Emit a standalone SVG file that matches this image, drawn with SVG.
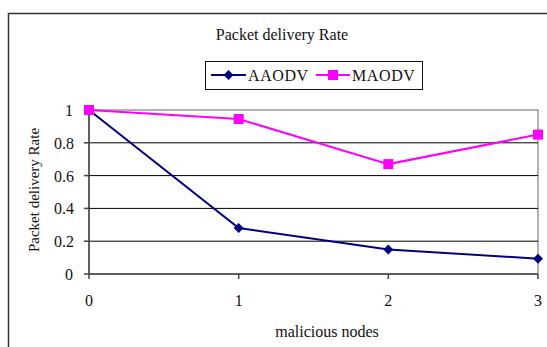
<svg xmlns="http://www.w3.org/2000/svg" width="547" height="347" viewBox="0 0 547 347">
  <style>
    text { font-family: "Liberation Serif", "Times New Roman", serif; fill: #111; }
    .t16 { font-size: 16px; }
    .tick { font-size: 16px; }
    .grid { stroke: #000; stroke-width: 1; }
    .frame { stroke: #808080; stroke-width: 1.2; fill: none; }
    .axis { stroke: #444; stroke-width: 1.5; }
    .aaodv { stroke: #000080; stroke-width: 2; fill: none; }
    .maodv { stroke: #FF00FF; stroke-width: 2; fill: none; }
  </style>
  <defs>
    <path id="diamond" d="M0,-5 L5,0 L0,5 L-5,0 Z" fill="#000080"/>
    <rect id="square" x="-5" y="-5" width="10" height="10" fill="#FF00FF"/>
  </defs>
  <rect width="547" height="347" fill="#fff"/>
  <!-- chart frame running off the right and bottom edges -->
  <path d="M8.5,347 V13.5 H547" fill="none" stroke="#333" stroke-width="1.5"/>

  <text class="t16" x="282" y="40" text-anchor="middle">Packet delivery Rate</text>

  <!-- legend -->
  <g id="legend">
    <rect x="205.5" y="61.5" width="217" height="28" fill="#fff" stroke="#111" stroke-width="1"/>
    <line x1="211" y1="75" x2="246" y2="75" class="aaodv"/>
    <use href="#diamond" x="228.5" y="75"/>
    <text class="t16" x="248" y="81" letter-spacing="0.6">AAODV</text>
    <line x1="316" y1="75" x2="350" y2="75" class="maodv"/>
    <use href="#square" x="333" y="75"/>
    <text class="t16" x="352" y="81" letter-spacing="0.6">MAODV</text>
  </g>

  <!-- plot area -->
  <g id="plot">
    <rect x="89" y="110" width="449" height="164" class="frame"/>
    <line x1="89" y1="142.8" x2="538" y2="142.8" class="grid"/>
    <line x1="89" y1="175.6" x2="538" y2="175.6" class="grid"/>
    <line x1="89" y1="208.4" x2="538" y2="208.4" class="grid"/>
    <line x1="89" y1="241.2" x2="538" y2="241.2" class="grid"/>
    <line x1="89" y1="110" x2="89" y2="279" class="axis"/>
    <line x1="84" y1="274" x2="538" y2="274" class="axis"/>
    <g class="axis">
      <line x1="84" y1="110" x2="89" y2="110"/>
      <line x1="84" y1="142.8" x2="89" y2="142.8"/>
      <line x1="84" y1="175.6" x2="89" y2="175.6"/>
      <line x1="84" y1="208.4" x2="89" y2="208.4"/>
      <line x1="84" y1="241.2" x2="89" y2="241.2"/>
      <line x1="238.7" y1="274" x2="238.7" y2="279"/>
      <line x1="388.3" y1="274" x2="388.3" y2="279"/>
      <line x1="538" y1="274" x2="538" y2="279"/>
    </g>
  </g>

  <!-- y axis labels -->
  <g class="tick" text-anchor="end">
    <text x="73" y="116">1</text>
    <text x="74" y="149">0.8</text>
    <text x="74" y="182">0.6</text>
    <text x="74" y="214">0.4</text>
    <text x="74" y="247">0.2</text>
    <text x="73" y="280">0</text>
  </g>
  <text class="t16" font-size="15" transform="translate(39,190) rotate(-90)" text-anchor="middle" style="font-size:15px">Packet delivery Rate</text>

  <!-- x axis labels -->
  <g class="tick" text-anchor="middle">
    <text x="89" y="306">0</text>
    <text x="238.7" y="306">1</text>
    <text x="388.3" y="306">2</text>
    <text x="538" y="306">3</text>
  </g>
  <text class="t16" x="327" y="337" text-anchor="middle">malicious nodes</text>

  <!-- data series -->
  <g id="connectors">
    <polyline class="aaodv" points="89,110 238.7,228.1 388.3,249.4 538,258.7"/>
    <polyline class="maodv" points="89,110 238.7,119 388.3,164.1 538,134.6"/>
  </g>
  <g id="series-aaodv">
    <use href="#diamond" x="89" y="110"/>
    <use href="#diamond" x="238.7" y="228.1"/>
    <use href="#diamond" x="388.3" y="249.4"/>
    <use href="#diamond" x="538" y="258.7"/>
  </g>
  <g id="series-maodv">
    <use href="#square" x="89" y="110"/>
    <use href="#square" x="238.7" y="119"/>
    <use href="#square" x="388.3" y="164.1"/>
    <use href="#square" x="538" y="134.6"/>
  </g>
</svg>
